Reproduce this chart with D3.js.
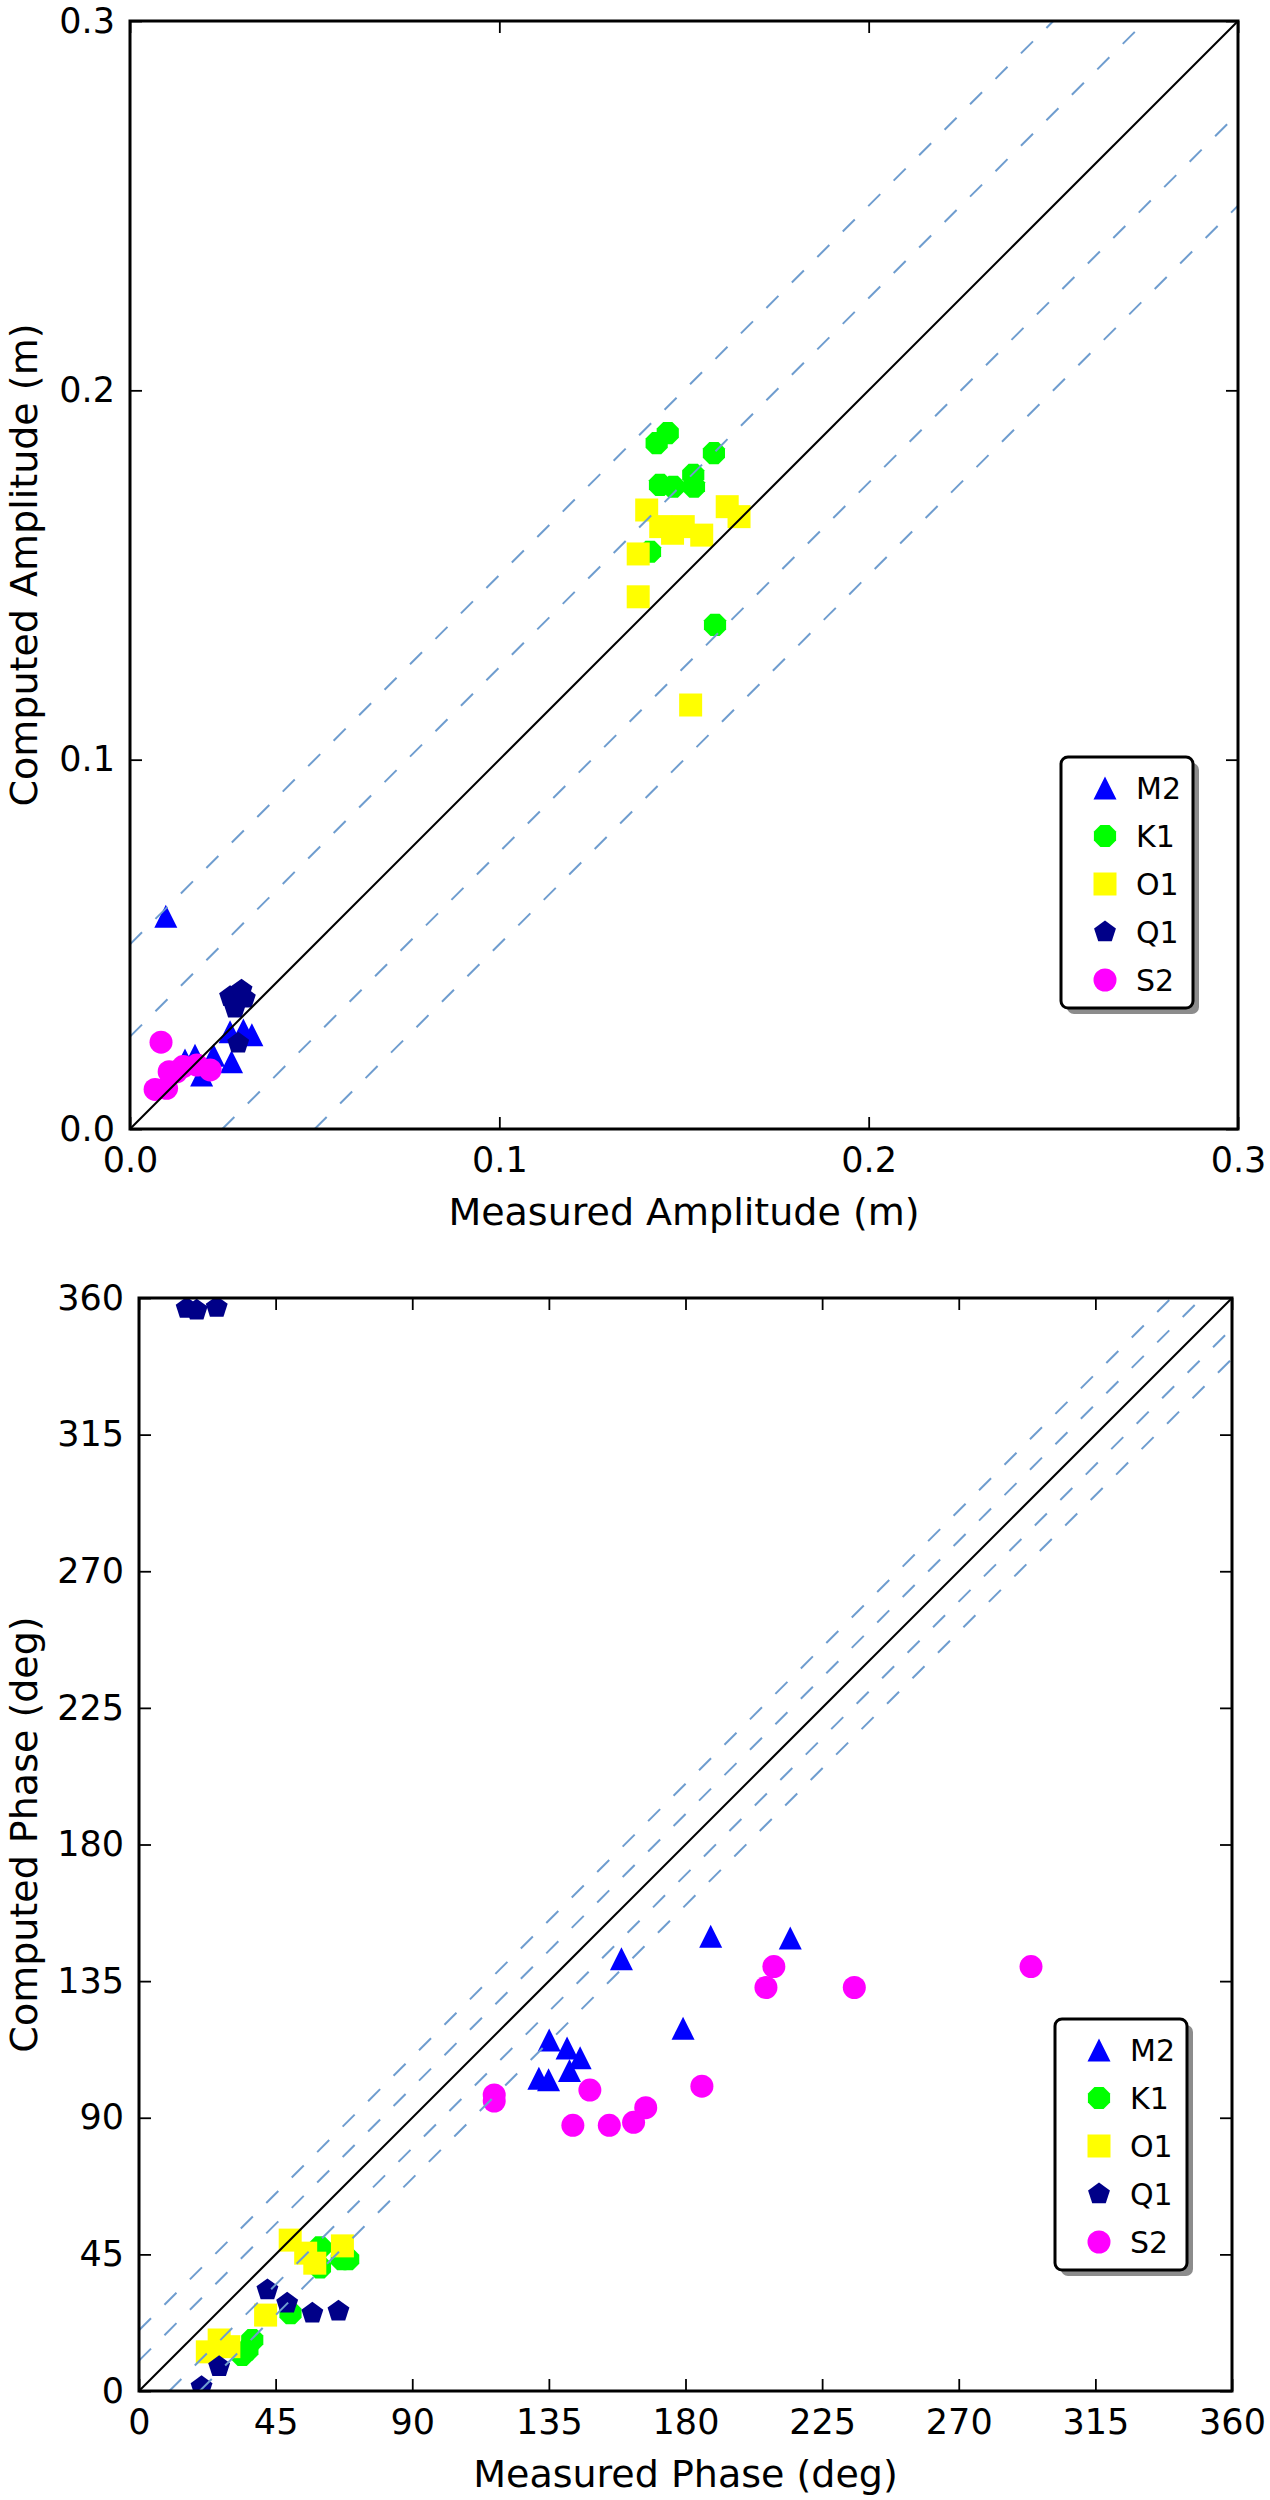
<!DOCTYPE html>
<html>
<head>
<meta charset="utf-8">
<script src="https://cdn.jsdelivr.net/npm/d3@7"></script>
<style>
  html, body { margin: 0; padding: 0; background: #fff; }
  svg { display: block; }
</style>
</head>
<body>
<svg id="chart" width="1270" height="2500"></svg>
<script>
// ---- data: [measured, computed] per constituent ----
const constituents = ['M2', 'K1', 'O1', 'Q1', 'S2'];

const ampM2 = [[0.0097, 0.0576], [0.0271, 0.0263], [0.0307, 0.0268], [0.0330, 0.0255], [0.0275, 0.0182],
  [0.0226, 0.0200], [0.0176, 0.0200], [0.0194, 0.0146], [0.0149, 0.0187]];
const ampK1 = [[0.1456, 0.1884], [0.1426, 0.1857], [0.1581, 0.1830], [0.1525, 0.1771], [0.1435, 0.1744],
  [0.1471, 0.1739], [0.1527, 0.1739], [0.1408, 0.1563], [0.1584, 0.1365]];
const ampO1 = [[0.1399, 0.1676], [0.1617, 0.1685], [0.1649, 0.1658], [0.1437, 0.1631], [0.1469, 0.1613],
  [0.1498, 0.1631], [0.1548, 0.1608], [0.1376, 0.1557], [0.1376, 0.1441], [0.1518, 0.1148]];
const ampQ1 = [[0.0271, 0.0358], [0.0302, 0.0376], [0.0311, 0.0354], [0.0284, 0.0327], [0.0293, 0.0232]];
const ampS2 = [[0.0084, 0.0235], [0.0068, 0.0107], [0.0099, 0.0110], [0.0106, 0.0155], [0.0144, 0.0169],
  [0.0181, 0.0173], [0.0217, 0.0160], [0.0126, 0.0155]];

const phM2 = [[158.9, 142.4], [188.3, 149.8], [214.5, 149.2], [179.2, 119.5], [135.1, 115.6], [141, 113],
  [145.3, 109.8], [131.7, 103], [134.9, 102.5], [141.8, 105.6]];
const phK1 = [[59.6, 47.3], [59.6, 40.7], [68.9, 43.4], [66.8, 43.4], [49.9, 25.6], [37.3, 16.8],
  [35.7, 13.5], [34.0, 11.9]];
const phO1 = [[49.8, 49.7], [54.9, 45.4], [57.9, 42.1], [67, 47.8], [41.7, 25.0], [22.5, 12.9],
  [26.4, 16.8], [29.6, 14.6]];
const phQ1 = [[15.7, 356.6], [19.0, 356.0], [25.6, 356.9], [42.3, 33.3], [48.8, 28.9], [57.1, 25.6],
  [65.7, 26.3], [26.4, 8.0], [20.6, 1.4]];
const phS2 = [[293.8, 139.8], [209.1, 139.8], [206.5, 132.9], [235.6, 132.9], [185.4, 100.4], [148.5, 99.1],
  [117, 97.5], [117, 95.5], [166.9, 93.3], [162.9, 88.5], [154.9, 87.5], [142.9, 87.5]];

const ampTicks = [0, 0.1, 0.2, 0.3];
const phTicks = [0, 45, 90, 135, 180, 225, 270, 315, 360];
const ampBands = [0.05, 0.025, -0.025, -0.05];
const phBands = [20, 10, -10, -20];

// ---- markers (matplotlib-like shapes) ----
const poly = (n, rot) => ({
  draw(ctx, r) {
    for (let i = 0; i < n; i++) {
      const a = rot + i * 2 * Math.PI / n;
      const px = r * Math.cos(a), py = r * Math.sin(a);
      i ? ctx.lineTo(px, py) : ctx.moveTo(px, py);
    }
    ctx.closePath();
  }
});
const shapes = {
  M2: { draw(ctx, r) { ctx.moveTo(0, -r); ctx.lineTo(r, r); ctx.lineTo(-r, r); ctx.closePath(); } },
  K1: poly(8, Math.PI / 8),
  O1: { draw(ctx, r) { ctx.rect(-r, -r, 2 * r, 2 * r); } },
  Q1: poly(5, -Math.PI / 2),
  S2: { draw(ctx, r) { ctx.moveTo(r, 0); ctx.arc(0, 0, r, 0, 2 * Math.PI); } },
};
const markerR = { M2: 11.5, K1: 12, O1: 11.5, Q1: 11.5, S2: 11.5 };
const colors = { M2: '#0000ff', K1: '#00ff00', O1: '#ffff00', Q1: '#000088', S2: '#ff00ff' };

const FONT = 'DejaVu Sans, sans-serif';
const svg = d3.select('#chart');
svg.append('rect').attr('width', 1270).attr('height', 2500).attr('fill', '#fff');

const panels = [
  { id: 'amp', left: 130, top: 21, size: 1108, max: 0.3, ticks: ampTicks, fmt: d3.format('.1f'),
    bands: ampBands, series: [ampM2, ampK1, ampO1, ampQ1, ampS2],
    xlabel: 'Measured Amplitude (m)', ylabel: 'Computed Amplitude (m)' },
  { id: 'ph', left: 139, top: 1298, size: 1093, max: 360, ticks: phTicks, fmt: d3.format('d'),
    bands: phBands, series: [phM2, phK1, phO1, phQ1, phS2],
    xlabel: 'Measured Phase (deg)', ylabel: 'Computed Phase (deg)' },
];

for (const P of panels) {
  const x = d3.scaleLinear().domain([0, P.max]).range([P.left, P.left + P.size]);
  const y = d3.scaleLinear().domain([0, P.max]).range([P.top + P.size, P.top]);
  const bottom = P.top + P.size, right = P.left + P.size;

  svg.append('clipPath').attr('id', 'clip-' + P.id)
    .append('rect').attr('x', P.left).attr('y', P.top).attr('width', P.size).attr('height', P.size);
  const plot = svg.append('g').attr('clip-path', `url(#clip-${P.id})`);

  // scatter, series in order so later ones sit on top
  constituents.forEach((name, i) => {
    const sym = d3.symbol().type(shapes[name]).size(markerR[name]);
    plot.append('g').selectAll('path').data(P.series[i]).join('path')
      .attr('transform', (d) => `translate(${x(d[0])},${y(d[1])})`)
      .attr('d', sym)
      .attr('fill', colors[name]);
  });

  // 1:1 line and offset bands (drawn over the markers)
  const line = d3.line().x((d) => x(d[0])).y((d) => y(d[1]));
  for (const c of P.bands) {
    const pts = c > 0 ? [[0, c], [P.max - c, P.max]] : [[-c, 0], [P.max, P.max + c]];
    plot.append('path').attr('d', line(pts)).attr('fill', 'none')
      .attr('stroke', '#6f9dcf').attr('stroke-width', 2).attr('stroke-dasharray', '17,19');
  }
  plot.append('path').attr('d', line([[0, 0], [P.max, P.max]])).attr('fill', 'none')
    .attr('stroke', '#000').attr('stroke-width', 2);

  // axes, ticks inward on all sides
  const styleAxis = (g) => {
    g.select('.domain').remove();
    g.selectAll('.tick line').attr('stroke', '#000').attr('stroke-width', 1.8);
    g.selectAll('text').attr('font-family', FONT).attr('font-size', 35).attr('fill', '#000');
  };
  svg.append('g').attr('transform', `translate(0,${bottom})`)
    .call(d3.axisBottom(x).tickValues(P.ticks).tickFormat(P.fmt).tickSize(-12).tickPadding(18)).call(styleAxis);
  svg.append('g').attr('transform', `translate(${P.left},0)`)
    .call(d3.axisLeft(y).tickValues(P.ticks).tickFormat(P.fmt).tickSize(-12).tickPadding(15)).call(styleAxis);
  svg.append('g').attr('transform', `translate(0,${P.top})`)
    .call(d3.axisTop(x).tickValues(P.ticks).tickFormat('').tickSize(-12)).call(styleAxis);
  svg.append('g').attr('transform', `translate(${right},0)`)
    .call(d3.axisRight(y).tickValues(P.ticks).tickFormat('').tickSize(-12)).call(styleAxis);

  svg.append('rect').attr('x', P.left).attr('y', P.top).attr('width', P.size).attr('height', P.size)
    .attr('fill', 'none').attr('stroke', '#000').attr('stroke-width', 3);

  // axis labels
  svg.append('text').attr('x', (P.left + right) / 2).attr('y', bottom + 96)
    .attr('text-anchor', 'middle').attr('font-family', FONT).attr('font-size', 38).text(P.xlabel);
  svg.append('text').attr('transform', `translate(37,${(P.top + bottom) / 2 - 10}) rotate(-90)`)
    .attr('text-anchor', 'middle').attr('font-family', FONT).attr('font-size', 38).text(P.ylabel);

  // legend with drop shadow
  const lw = 132, lh = 251;
  const lx = right - 45 - lw, ly = bottom - 121 - lh;
  const lg = svg.append('g');
  lg.append('rect').attr('x', lx + 6).attr('y', ly + 6).attr('width', lw).attr('height', lh)
    .attr('rx', 7).attr('fill', '#8c8c8c');
  lg.append('rect').attr('x', lx).attr('y', ly).attr('width', lw).attr('height', lh)
    .attr('rx', 7).attr('fill', '#fff').attr('stroke', '#000').attr('stroke-width', 3);
  constituents.forEach((name, i) => {
    const cy = ly + 31 + i * 48;
    lg.append('path').attr('transform', `translate(${lx + 44},${cy})`)
      .attr('d', d3.symbol().type(shapes[name]).size(markerR[name])).attr('fill', colors[name]);
    lg.append('text').attr('x', lx + 75).attr('y', cy).attr('dy', '0.36em')
      .attr('font-family', FONT).attr('font-size', 30).text(name);
  });
}
</script>
</body>
</html>
